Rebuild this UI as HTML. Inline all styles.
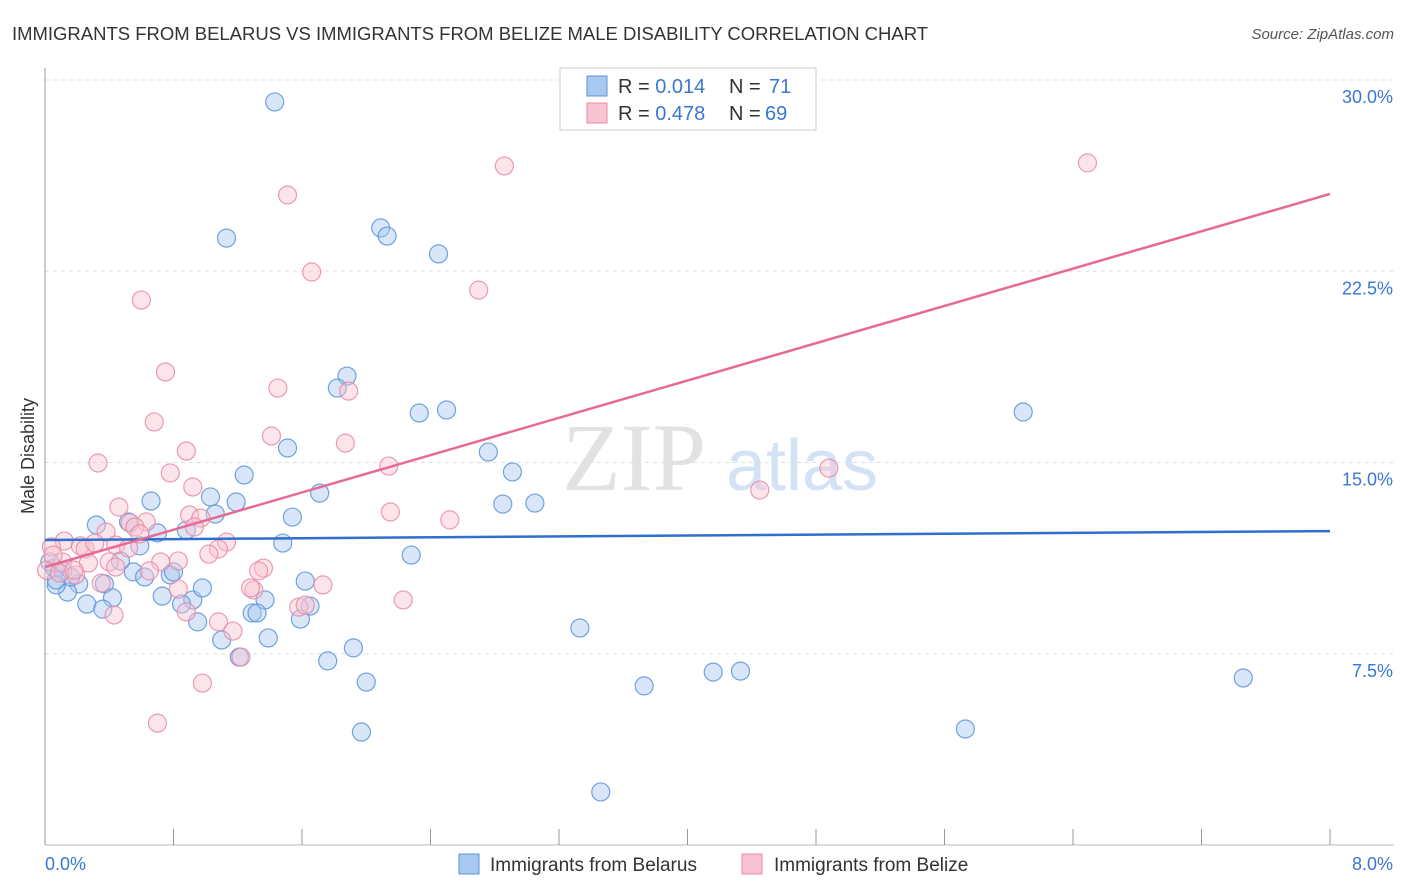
<!DOCTYPE html>
<html><head><meta charset="utf-8"><style>
body{margin:0;background:#fff;font-family:"Liberation Sans",sans-serif;}
#wrap{position:relative;width:1406px;height:892px;overflow:hidden;}
</style></head><body>
<div id="wrap">
<svg id="svg" width="1406" height="892" xmlns="http://www.w3.org/2000/svg">
<text x="12" y="40" font-size="18" fill="#333" textLength="916" lengthAdjust="spacingAndGlyphs">IMMIGRANTS FROM BELARUS VS IMMIGRANTS FROM BELIZE MALE DISABILITY CORRELATION CHART</text>
<text x="1394" y="39" font-size="15" fill="#555" text-anchor="end" font-style="italic">Source: ZipAtlas.com</text>
<text x="634" y="490" font-size="96" fill="#e2e2e2" text-anchor="middle" font-family="Liberation Serif">ZIP</text>
<text x="802" y="490" font-size="72" fill="#d3e2f5" text-anchor="middle">atlas</text>
<text transform="translate(34,456) rotate(-90)" font-size="18" fill="#333" text-anchor="middle">Male Disability</text>
<g id="grid"></g><g id="pts"></g><g id="lines"></g>
<g>
<rect x="560" y="68" width="256" height="62" fill="#fff" stroke="#ccc"/>
<rect x="587" y="76" width="20" height="20" fill="#a9c8ef" stroke="#5b93d8"/>
<rect x="587" y="103" width="20" height="20" fill="#f8c3d2" stroke="#e88aa5"/>
<text x="618" y="93" font-size="20" fill="#333">R = <tspan fill="#3a77d4">0.014</tspan></text>
<text x="729" y="93" font-size="20" fill="#333">N =</text>
<text x="769" y="93" font-size="20" fill="#3a77d4">71</text>
<text x="618" y="120" font-size="20" fill="#333">R = <tspan fill="#3a77d4">0.478</tspan></text>
<text x="729" y="120" font-size="20" fill="#333">N =</text>
<text x="765" y="120" font-size="20" fill="#3a77d4">69</text>
</g>
<g>
<rect x="459" y="854" width="20" height="20" fill="#a9c8ef" stroke="#5b93d8"/>
<text x="490" y="871" font-size="19" fill="#333">Immigrants from Belarus</text>
<rect x="742" y="854" width="20" height="20" fill="#f8c3d2" stroke="#e88aa5"/>
<text x="774" y="871" font-size="19" fill="#333">Immigrants from Belize</text>
</g>
</svg>
</div>
<script>
const yTicks=[7.5,15,22.5,30];
const yTickLabels=["7.5%","15.0%","22.5%","30.0%"];
const xTickLabels=["0.0%","8.0%"];
const belarusX=[1.43,1.13,2.09,2.13,2.45,1.88,1.82,2.33,2.50,6.09,1.51,2.76,1.24,2.91,0.66,1.03,1.19,1.71,2.85,3.05,0.32,0.52,0.88,0.70,1.06,1.54,0.59,1.48,2.28,0.06,0.11,0.21,0.14,0.37,0.55,0.62,0.78,0.80,0.42,0.26,0.36,0.73,0.92,0.98,0.85,1.37,1.29,1.32,1.62,1.65,1.59,0.95,1.10,1.39,3.33,1.92,1.76,2.00,3.73,4.16,4.33,7.46,1.97,5.73,3.46,0.07,0.03,0.16,0.47,0.07,1.21];
const belarusY=[29.14,23.80,24.20,23.88,23.18,18.39,17.92,16.94,17.06,16.98,15.57,15.41,14.51,14.63,13.49,13.65,13.45,13.80,13.37,13.41,12.55,12.67,12.35,12.24,12.98,12.86,11.73,11.84,11.37,10.86,10.75,10.24,9.92,10.24,10.71,10.51,10.59,10.71,9.69,9.45,9.25,9.76,9.61,10.08,9.45,9.61,9.10,9.10,10.35,9.37,8.86,8.75,8.04,8.12,8.51,7.73,7.22,6.39,6.24,6.78,6.82,6.55,4.43,4.55,2.08,10.20,11.10,10.51,11.14,10.39,7.37];
const belizeX=[2.86,6.49,1.51,1.66,2.70,0.60,0.75,1.45,1.89,0.68,1.41,1.87,0.88,0.33,2.14,0.78,4.88,0.92,4.45,0.46,2.15,2.52,0.90,0.97,0.53,0.63,0.56,0.93,0.38,0.12,0.04,0.22,0.25,0.31,0.44,1.13,1.08,0.52,1.02,0.83,0.27,0.11,0.40,0.72,0.44,0.65,1.36,1.33,0.01,0.19,0.35,0.83,1.30,1.73,1.28,2.23,1.58,1.62,0.88,0.43,1.08,1.17,1.22,0.98,0.70,0.05,0.09,0.18,0.59];
const belizeY=[26.63,26.75,25.49,22.47,21.76,21.37,18.55,17.92,17.80,16.59,16.04,15.76,15.45,14.98,14.86,14.59,14.78,14.04,13.92,13.25,13.06,12.75,12.94,12.82,12.63,12.67,12.47,12.47,12.27,11.92,11.69,11.73,11.61,11.84,11.76,11.88,11.61,11.65,11.41,11.14,11.06,11.10,11.10,11.10,10.90,10.75,10.86,10.75,10.78,10.59,10.27,10.04,10.00,10.20,10.08,9.61,9.33,9.41,9.14,9.02,8.75,8.39,7.37,6.35,4.78,11.37,10.67,10.78,12.20];
const belarusTrend=[11.96,12.31];
const belizeTrend=[10.90,25.53];

const NS="http://www.w3.org/2000/svg";
const X0=45,X1=1330,Y0=845,Y30=80;
const xs=v=>X0+(v/8)*(X1-X0);
const ys=v=>Y0-(v/30)*(Y0-Y30);
function mk(tag,attrs,parent){const e=document.createElementNS(NS,tag);for(const k in attrs)e.setAttribute(k,attrs[k]);parent.appendChild(e);return e;}
const grid=document.getElementById('grid');
yTicks.forEach((t,i)=>{
 const l=mk('line',{x1:X0,x2:1394,y1:ys(t),y2:ys(t),stroke:'#ddd','stroke-dasharray':'4,4'},grid);
 
 
 const tx=mk('text',{x:1393,y:ys(t)+23,'font-size':18,fill:'#3a77d4','text-anchor':'end'},grid);
 tx.textContent=yTickLabels[i];
 
 
});
const ax=mk('line',{x1:X0,x2:X0,y1:68,y2:Y0,stroke:'#999'},grid);


const bx=mk('line',{x1:X0,x2:1394,y1:Y0,y2:Y0,stroke:'#bbb'},grid);


for(let i=0;i<=10;i++){
 const t=mk('line',{x1:xs(i*0.8),x2:xs(i*0.8),y1:Y0-16,y2:Y0,stroke:'#999'},grid);
 
 
}
[[0,'start',45],[8,'end',1393]].forEach((d,i)=>{
 const tx=mk('text',{x:d[2],y:870,'font-size':18,fill:'#3a77d4','text-anchor':d[1]},grid);
 tx.textContent=xTickLabels[i];
 
 
});
const pts=document.getElementById('pts');
function drawSeries(X,Y,fill,stroke,name){
 X.forEach((x,i)=>{
  const c=mk('circle',{cx:xs(x),cy:ys(Y[i]),r:9,fill:fill,'fill-opacity':0.45,stroke:stroke,'stroke-width':1.2,'stroke-opacity':0.85},pts);
  
  
 });
}
drawSeries(belarusX,belarusY,'#a9c8ef','#5b93d8','point-belarus');
drawSeries(belizeX,belizeY,'#f8c3d2','#e88aa5','point-belize');
const lines=document.getElementById('lines');
const l1=mk('line',{x1:xs(0),y1:ys(belarusTrend[0]),x2:xs(8),y2:ys(belarusTrend[1]),stroke:'#2f6fd0','stroke-width':2.5},lines);


const l2=mk('line',{x1:xs(0),y1:ys(belizeTrend[0]),x2:xs(8),y2:ys(belizeTrend[1]),stroke:'#e66a93','stroke-width':2.5},lines);


</script>
</body></html>
